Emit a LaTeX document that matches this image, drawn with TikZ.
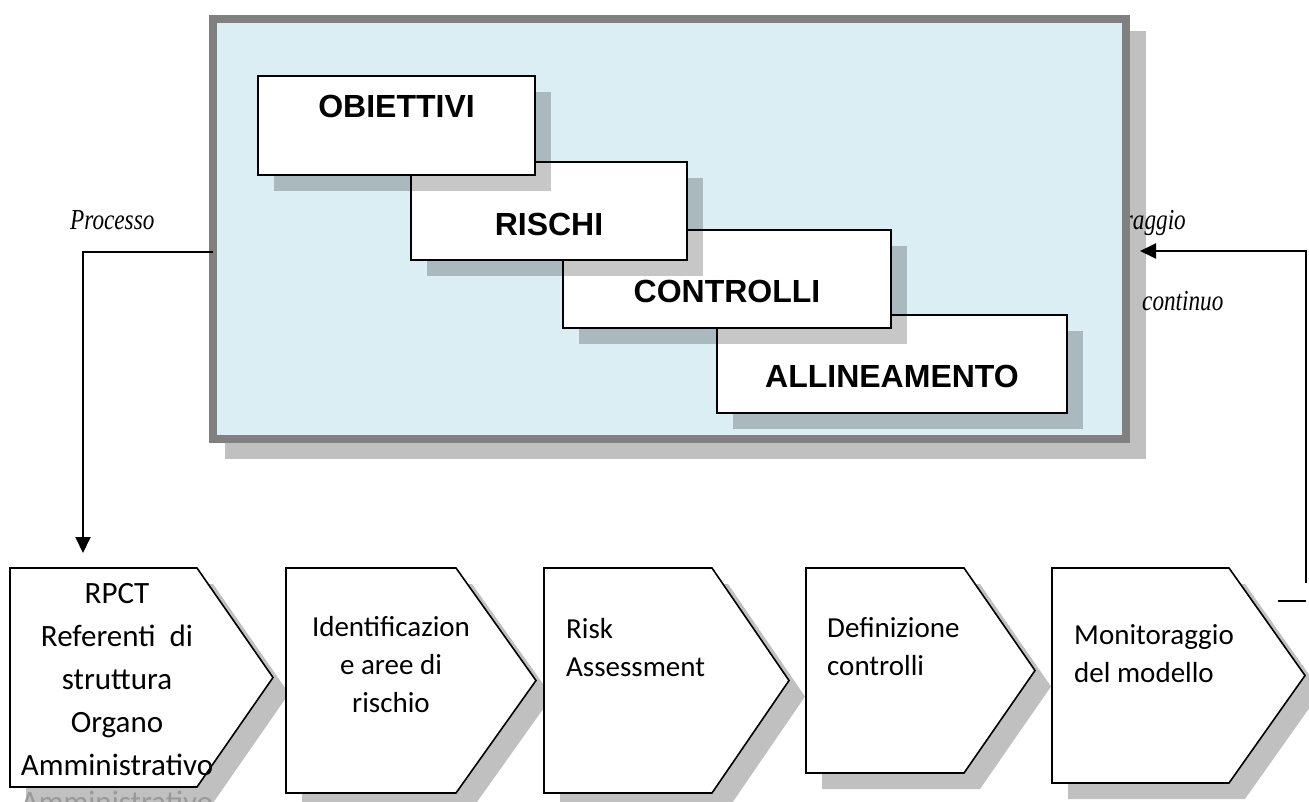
\documentclass[tikz,border=0pt]{standalone}
\usepackage{fontspec}
\newfontfamily\calibri{Carlito}
\newfontfamily\arial{Liberation Sans}
\newfontfamily\sidefont[FakeStretch=0.8]{Liberation Serif}
\usetikzlibrary{arrows.meta}

\definecolor{framefill}{HTML}{DAEEF3}
\definecolor{framegray}{HTML}{808080}
\definecolor{shadowgray}{HTML}{C0C0C0}

\tikzset{
	frame/.style={draw=framegray, fill=framefill, line width=8pt, inner sep=0pt, outer sep=0pt},
	topbox/.style={draw=black, fill=white, line width=2pt},
	topshadow/.style={fill=black, fill opacity=0.22},
	toplabel/.style={font=\arial\bfseries\fontsize{32}{38}\selectfont, inner sep=0pt},
	stepshape/.style={draw=black, fill=white, line width=1.6pt, line join=miter},
	stepshadow/.style={fill=shadowgray},
	steplabel/.style={font=\calibri\fontsize{29}{38}\selectfont, inner sep=0pt, anchor=base},
	sidelabel/.style={font=\sidefont\itshape\fontsize{29}{32}\selectfont, inner sep=0pt},
	flow/.style={line width=2pt, -{Triangle[width=15pt,length=16pt]}},
}

\begin{document}
\begin{tikzpicture}[x=1pt, y=-1pt]
	\useasboundingbox (0,0) rectangle (1309,802);

	\fill[shadowgray] (225,31) rectangle (1146,459);
	\node[sidelabel, anchor=base west] (processo) at (70,230) {Processo};
	\node[sidelabel, anchor=base east] (monitoraggio) at (1186,230) {Monitoraggio};
	\node[sidelabel, anchor=base west] (continuo) at (1142,310) {continuo};
	\node[frame, minimum width=913pt, minimum height=420pt] (frame) at (669.5,229) {};

	\fill[topshadow] (733,331) rectangle (1083,429);
	\filldraw[topbox] (717,315) rectangle (1067,413);
	\node[toplabel] (allineamento) at (892,376.5) {ALLINEAMENTO};
	\fill[topshadow] (579,246) rectangle (907,344);
	\filldraw[topbox] (563,230) rectangle (891,328);
	\node[toplabel] (controlli) at (727,291) {CONTROLLI};
	\fill[topshadow] (427,178) rectangle (703,276);
	\filldraw[topbox] (411,162) rectangle (687,260);
	\node[toplabel] (rischi) at (549,224) {RISCHI};
	\fill[topshadow] (274,92) rectangle (551,191);
	\filldraw[topbox] (258,76) rectangle (535,175);
	\node[toplabel] (obiettivi) at (396.5,106) {OBIETTIVI};

	\coordinate (step1top) at (83,553);
	\coordinate (step5foot) at (1306,583);
	\draw[flow] ([yshift=-23pt]frame.west) -| (step1top);
	\draw[flow] (step5foot) |- ([xshift=14pt,yshift=-22pt]frame.east);
	\draw[line width=1.6pt] (1278,601) -- (1306,601);

	\fill[stepshadow] (26,584) -- (213,584) -- (289,693.5) -- (213,803) -- (26,803) -- cycle;
	\node[steplabel, text=black!40, font=\calibri\fontsize{31}{43}\selectfont] (step1ghost) at (117,812) {Amministrativo};
	\draw[stepshape] (10,568) -- (197,568) -- (273,677.5) -- (197,787) -- (10,787) -- cycle;
	\node[steplabel, align=center, font=\calibri\fontsize{31}{43}\selectfont] (step1) at (117,775) {RPCT\\Referenti~~di\\struttura\\Organo\\Amministrativo};

	\fill[stepshadow] (302,584) -- (472,584) -- (552,696.5) -- (472,809) -- (302,809) -- cycle;
	\draw[stepshape] (286,568) -- (456,568) -- (536,680.5) -- (456,793) -- (286,793) -- cycle;
	\node[steplabel, align=center] (step2) at (391,712) {Identificazion\\e aree di\\rischio};

	\fill[stepshadow] (560,584) -- (728,584) -- (805,696.5) -- (728,809) -- (560,809) -- cycle;
	\draw[stepshape] (544,568) -- (712,568) -- (789,680.5) -- (712,793) -- (544,793) -- cycle;
	\node[steplabel, align=left, anchor=base west] (step3) at (566,676) {Risk\\Assessment};

	\fill[stepshadow] (822,584) -- (980,584) -- (1051,686.5) -- (980,789) -- (822,789) -- cycle;
	\draw[stepshape] (806,568) -- (964,568) -- (1035,670.5) -- (964,773) -- (806,773) -- cycle;
	\node[steplabel, align=left, anchor=base west] (step4) at (827,675) {Definizione\\controlli};

	\fill[stepshadow] (1068,584) -- (1245,584) -- (1321,691.5) -- (1245,799) -- (1068,799) -- cycle;
	\draw[stepshape] (1052,568) -- (1229,568) -- (1305,675.5) -- (1229,783) -- (1052,783) -- cycle;
	\node[steplabel, align=left, anchor=base west] (step5) at (1074,682) {Monitoraggio\\del modello};
\end{tikzpicture}
\end{document}
